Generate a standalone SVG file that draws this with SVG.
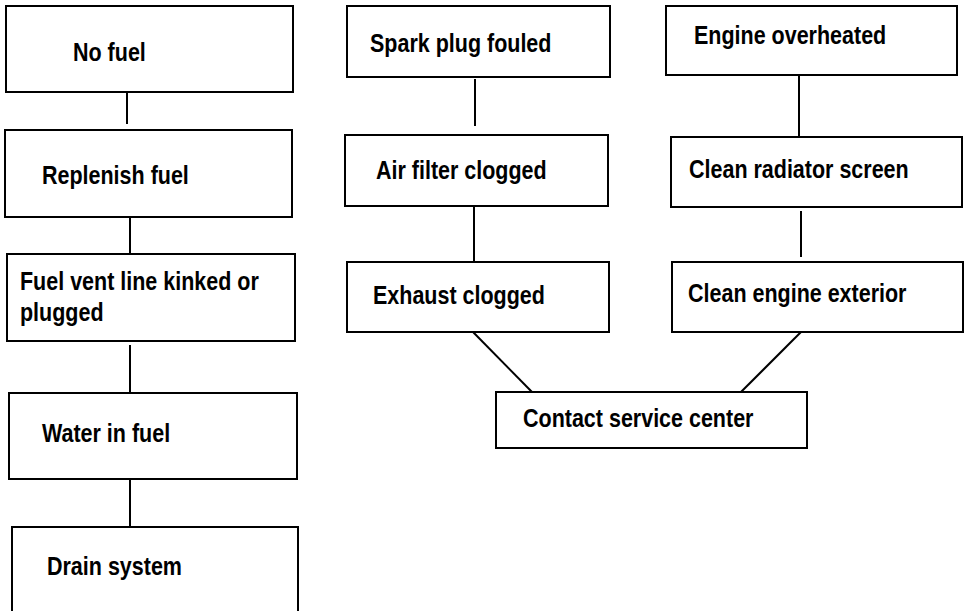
<svg xmlns="http://www.w3.org/2000/svg" width="969" height="611" viewBox="0 0 969 611">
<style>
rect{fill:#fff;stroke:#000;stroke-width:2}
text{font-family:"Liberation Sans",Arial,sans-serif;font-weight:bold;font-size:25px;fill:#000}
#connectors line{stroke:#000;stroke-width:2}
</style>
<rect x="0" y="0" width="969" height="611" style="stroke:none"/>
<g id="connectors">
<line x1="127" y1="92" x2="127" y2="124"/>
<line x1="130" y1="217" x2="130" y2="254"/>
<line x1="130" y1="345" x2="130" y2="393"/>
<line x1="130" y1="479" x2="130" y2="527"/>
<line x1="475" y1="79" x2="475" y2="126"/>
<line x1="474" y1="206" x2="474" y2="262"/>
<line x1="799" y1="75" x2="799" y2="137"/>
<line x1="801" y1="211" x2="801" y2="257"/>
<line x1="473" y1="332" x2="532" y2="392"/>
<line x1="801" y1="332" x2="741" y2="392"/>
</g>
<g id="no-fuel"><rect x="6" y="6" width="287" height="86"/><text transform="translate(73,61) scale(0.86,1)">No fuel</text></g>
<g id="replenish-fuel"><rect x="5" y="130" width="287" height="87"/><text transform="translate(42,184) scale(0.86,1)">Replenish fuel</text></g>
<g id="fuel-vent"><rect x="7" y="254" width="288" height="87"/><text transform="translate(20,290) scale(0.86,1)">Fuel vent line kinked or</text><text transform="translate(20,321) scale(0.86,1)">plugged</text></g>
<g id="water-in-fuel"><rect x="9" y="393" width="288" height="86"/><text transform="translate(42,442) scale(0.86,1)">Water in fuel</text></g>
<g id="drain-system"><rect x="12" y="527" width="286" height="90"/><text transform="translate(47,575) scale(0.86,1)">Drain system</text></g>
<g id="spark-plug"><rect x="347" y="6" width="263" height="71"/><text transform="translate(370,52) scale(0.86,1)">Spark plug fouled</text></g>
<g id="air-filter"><rect x="345" y="135" width="263" height="71"/><text transform="translate(376,179) scale(0.86,1)">Air filter clogged</text></g>
<g id="exhaust"><rect x="347" y="262" width="262" height="70"/><text transform="translate(373,304) scale(0.86,1)">Exhaust clogged</text></g>
<g id="engine-overheated"><rect x="666" y="6" width="291" height="69"/><text transform="translate(694,44) scale(0.86,1)">Engine overheated</text></g>
<g id="clean-radiator"><rect x="671" y="137" width="291" height="70"/><text transform="translate(689,178) scale(0.86,1)">Clean radiator screen</text></g>
<g id="clean-engine"><rect x="672" y="262" width="291" height="70"/><text transform="translate(688,302) scale(0.86,1)">Clean engine exterior</text></g>
<g id="contact-service"><rect x="496" y="392" width="311" height="56"/><text transform="translate(523,427) scale(0.86,1)">Contact service center</text></g>
</svg>
